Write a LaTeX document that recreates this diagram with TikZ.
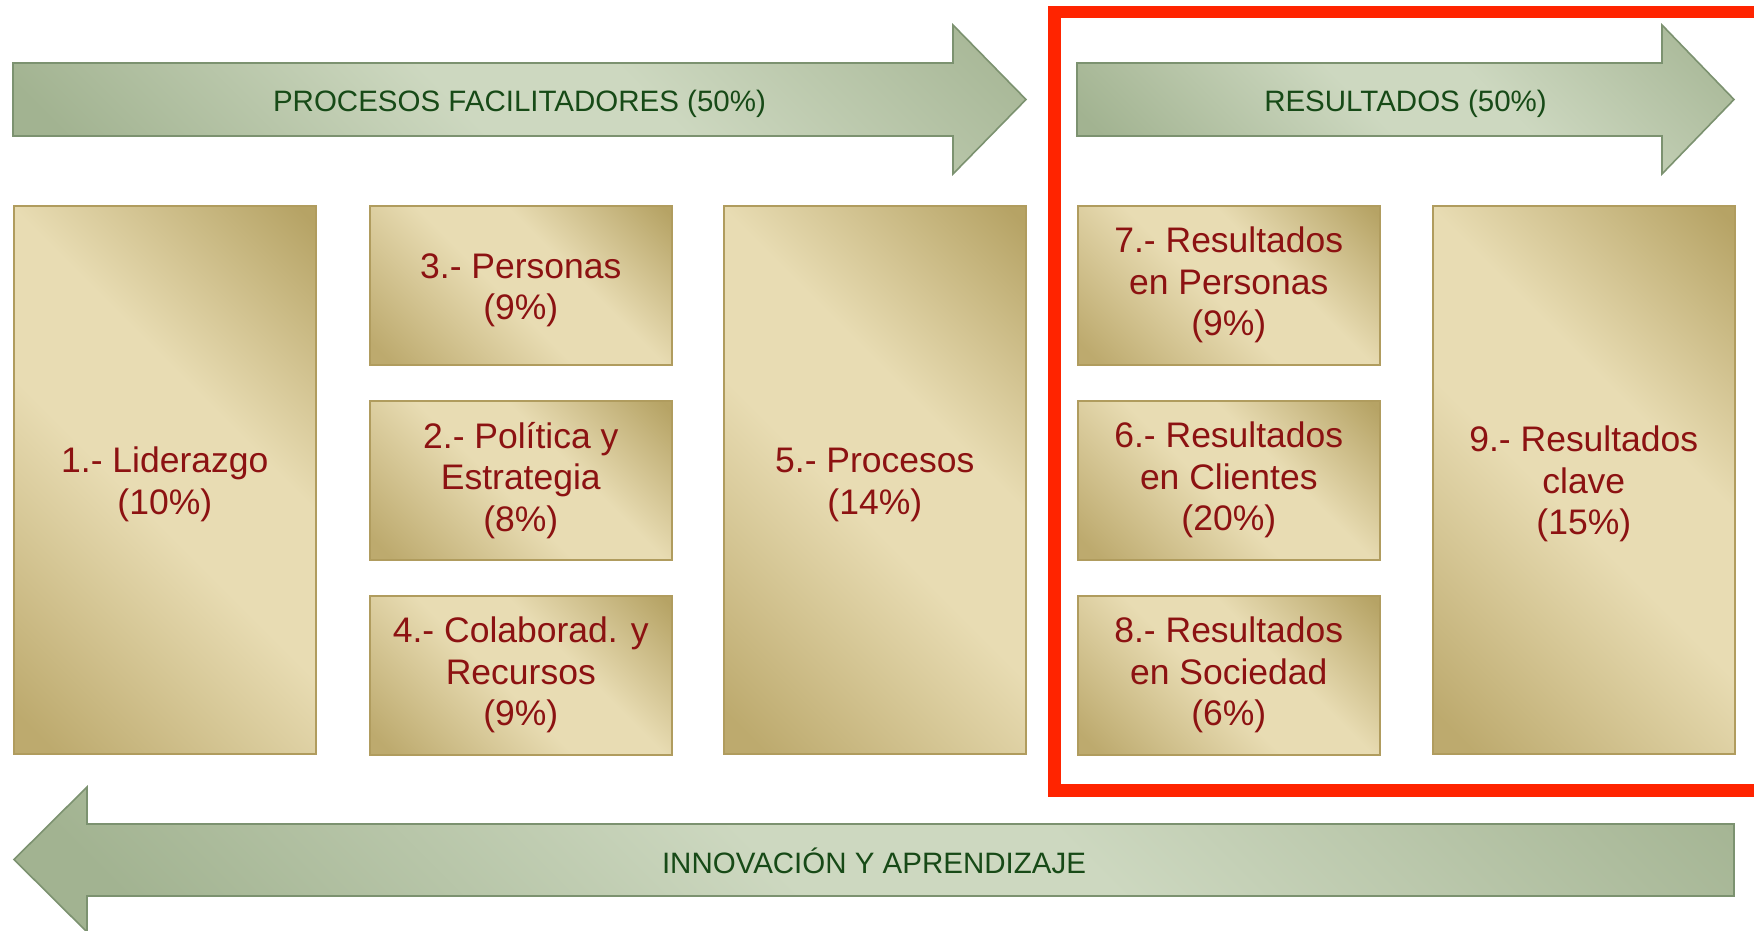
\documentclass[tikz,border=0pt]{standalone}
\usepackage{fontspec}
\setmainfont{Liberation Sans}
\definecolor{gdark}{HTML}{B6A365}
\definecolor{gdarkb}{HTML}{BDAA6E}
\definecolor{glight}{HTML}{E8DCB3}
\definecolor{gborder}{HTML}{B09C5E}
\definecolor{vdark}{HTML}{A2B391}
\definecolor{vdarkb}{HTML}{A5B594}
\definecolor{vlight}{HTML}{CDD8C0}
\definecolor{vborder}{HTML}{7C9270}
\definecolor{vtext}{HTML}{174A17}
\definecolor{rtext}{HTML}{8C1212}
\definecolor{frame}{HTML}{FF2400}
\newcommand\lowstrut{\rule{0pt}{34.5pt}}
\pgfdeclarehorizontalshading{goldsh}{100bp}{color(0bp)=(gdarkb); color(18bp)=(gdarkb); color(46bp)=(glight); color(60bp)=(glight); color(84bp)=(gdark); color(100bp)=(gdark)}
\pgfdeclarehorizontalshading{greensh}{100bp}{color(0bp)=(vdark); color(20bp)=(vdark); color(46bp)=(vlight); color(58bp)=(vlight); color(84bp)=(vdarkb); color(100bp)=(vdarkb)}
\tikzset{
  box/.style={draw=gborder, line width=1.6pt, shading=goldsh, shading angle=45,
    anchor=north west, minimum width=302pt, align=center, text=rtext,
    font=\fontsize{35.5}{41.5}\selectfont, inner sep=0pt},
  tallbox/.style={box, minimum height=548pt},
  smallbox/.style={box, minimum height=159pt},
  greenarrow/.style={draw=vborder, line width=1.6pt, shading=greensh, shading angle=45, line join=miter},
  arrowtext/.style={text=vtext, font=\fontsize{29.5}{34}\selectfont, inner sep=0pt},
  frameline/.style={draw=frame, line width=12.5pt, line join=miter}
}
\begin{document}
\begin{tikzpicture}[x=1pt,y=-1pt]
\path[use as bounding box] (0,0) rectangle (1754,930);
% red frame
\draw[frameline] (1780,12) -- (1054.5,12) -- (1054.5,790.5) -- (1780,790.5);
% arrows
\path[greenarrow] (13,63) -- (953,63) -- (953,25) -- (1026,99.5) -- (953,174) -- (953,136) -- (13,136) -- cycle;
\node[arrowtext] (pf) at (519.5,104) {PROCESOS FACILITADORES (50\%)};
\path[greenarrow] (1077,63) -- (1662,63) -- (1662,25) -- (1734,99.5) -- (1662,174) -- (1662,136) -- (1077,136) -- cycle;
\node[arrowtext] (res) at (1405.5,104) {RESULTADOS (50\%)};
\path[greenarrow] (1734,824) -- (87,824) -- (87,787) -- (14,859.5) -- (87,932) -- (87,896) -- (1734,896) -- cycle;
\node[arrowtext] (ia) at (874,861) {INNOVACIÓN Y APRENDIZAJE};
% boxes
\node[tallbox] (b1) at (13,205) {\lowstrut 1.- Liderazgo\\(10\%)};
\node[smallbox] (b3) at (369,205) {\lowstrut 3.- Personas\\(9\%)};
\node[smallbox] (b2) at (369,400) {2.- Política y\\Estrategia\\(8\%)};
\node[smallbox] (b4) at (369,595) {4.- Colaborad. y\\Recursos\\(9\%)};
\node[tallbox] (b5) at (723,205) {\lowstrut 5.- Procesos\\(14\%)};
\node[smallbox] (b7) at (1077,205) {7.- Resultados\\en Personas\\(9\%)};
\node[smallbox] (b6) at (1077,400) {6.- Resultados\\en Clientes\\(20\%)};
\node[smallbox] (b8) at (1077,595) {8.- Resultados\\en Sociedad\\(6\%)};
\node[tallbox] (b9) at (1432,205) {\lowstrut 9.- Resultados\\clave\\(15\%)};
\end{tikzpicture}
\end{document}
